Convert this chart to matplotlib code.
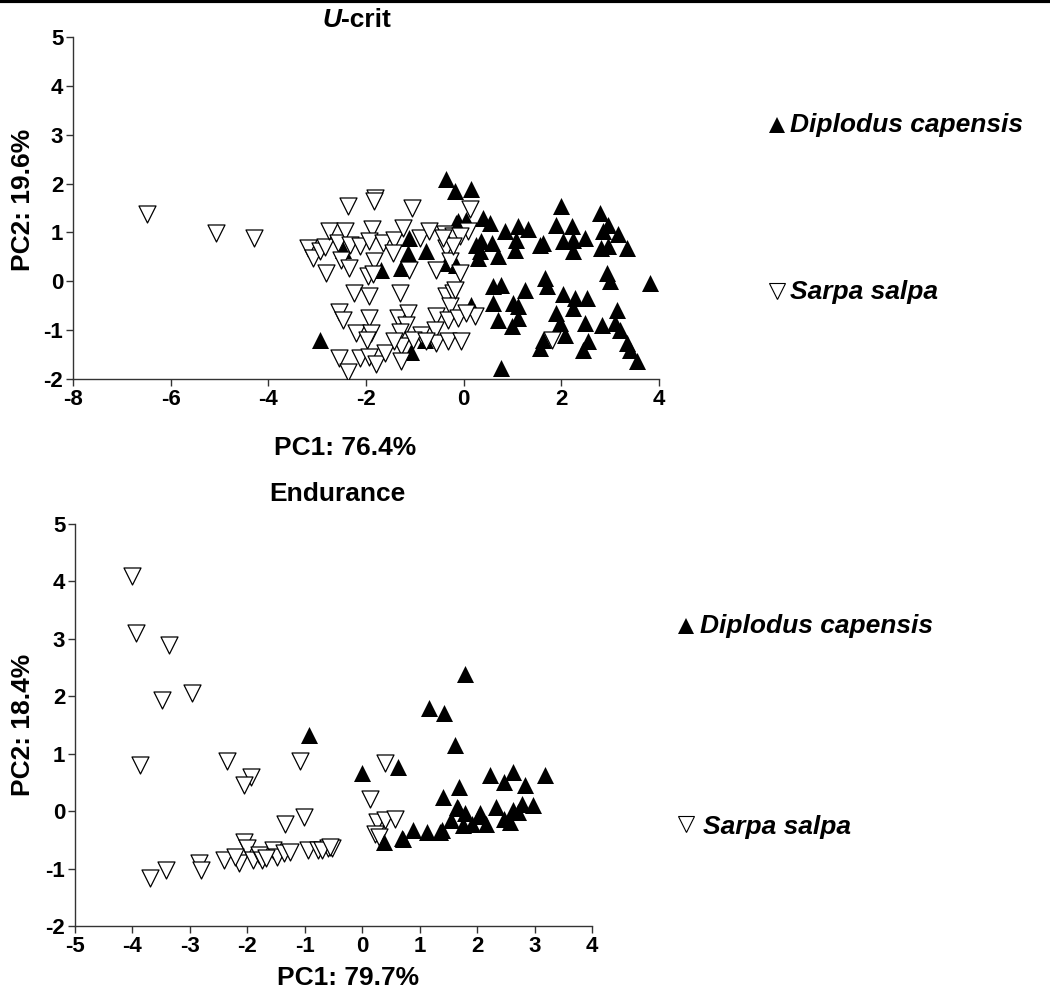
import matplotlib
matplotlib.use("Agg")
import matplotlib.pyplot as plt
from matplotlib.lines import Line2D

plt.rcParams['font.family'] = ['Liberation Sans', 'DejaVu Sans']
plt.rcParams['font.weight'] = 'bold'
plt.rcParams['axes.unicode_minus'] = False

# ----- data: U-crit PCA scores -----
ucrit_dip_x = [-2.94, -2.48, -1.69, -1.28, -1.11, -1.14, -0.77, -0.80, -1.07, -0.36, -0.18, 0.16,
               -0.15, -0.36, -0.15, -0.12, 0.05, 0.40, 0.53, 0.26, 0.36, 0.33, 0.29, 0.57, 0.70,
               0.84, 1.05, 1.08, 1.11, 1.32, 1.56, 1.63, 2.00, 1.90, 2.04, 2.21, 2.24, 2.24, 2.48,
               2.79, 2.86, 2.96, 2.82, 2.96, 3.17, 3.34, 2.93, 3.00, 3.82, 1.66, 1.70, 0.60, 0.77,
               1.25, 0.60, 0.16, 1.01, 1.11, 0.70, 0.98, 1.11, 2.04, 2.28, 2.52, 2.24, 1.90, 1.97,
               2.07, 2.48, 2.83, 3.13, 3.10, 3.20, 3.34, 3.40, 3.54, 1.63, 1.56, 2.55, 2.45, 0.77]
ucrit_dip_y = [-1.20, 0.65, 0.24, 0.27, 0.89, 0.58, 0.62, -1.20, -1.44, 2.09, 1.85, 1.88,
               1.20, 0.38, 0.34, 1.23, 1.26, 1.30, 1.20, 0.75, 0.82, 0.62, 0.48, 0.79, 0.51,
               1.03, 0.65, 0.85, 1.13, 1.06, 0.75, 0.79, 1.54, 1.16, 0.82, 1.13, 0.62, 0.85, 0.89,
               1.40, 1.03, 1.16, 0.68, 0.72, 0.96, 0.68, 0.17, 0.00, -0.03, 0.07, -0.10, -0.10, -0.07,
               -0.17, -0.44, -0.48, -0.44, -0.51, -0.79, -0.92, -0.75, -0.27, -0.34, -0.34, -0.55, -0.65, -0.85,
               -1.09, -0.85, -0.89, -0.58, -0.85, -0.99, -1.26, -1.40, -1.64, -1.20, -1.37, -1.23, -1.40, -1.78]

ucrit_sar_x = [-6.48, -5.07, -4.29, -3.19, -3.08, -2.95, -2.82, -2.83, -2.75, -2.58, -2.42, -2.37,
               -2.51, -2.34, -2.32, -2.13, -1.81, -1.83, -1.87, -1.93, -1.65, -1.83, -1.96, -1.86,
               -1.42, -1.24, -1.45, -1.12, -1.05, -0.90, -0.71, -0.56, -0.39, -0.36, -0.29, -0.22,
               -2.24, -1.93, -1.30, -2.55, -2.48, -1.94, -2.20, -1.89, -1.98, -1.35, -1.14, -1.18,
               -1.31, -1.28, -0.87, -0.57, -0.59, -0.56, -0.32, -0.36, -0.22, -0.29, -0.32, -2.55,
               -2.37, -2.13, -1.93, -1.79, -1.62, -1.28, -1.42, -1.04, -0.77, 0.12, 0.09, -0.08,
               -0.22, -0.42, -0.08, -0.18, -0.12, 0.23, 0.05, -0.05, 1.80]
ucrit_sar_y = [1.37, 0.99, 0.89, 0.68, 0.48, 0.62, 0.17, 0.70, 1.03, 0.79, 1.03, 1.54,
               0.44, 0.27, 0.75, 0.72, 1.71, 1.64, 1.06, 0.82, 0.79, 0.41, 0.10, 0.14,
               0.85, 1.09, 0.58, 0.24, 1.50, 0.89, 1.03, 0.24, 0.96, 0.68, 0.41, 0.92,
               -0.24, -0.31, -0.24, -0.62, -0.79, -0.75, -1.06, -1.06, -1.20, -0.75, -0.65, -0.89,
               -1.03, -1.33, -1.09, -0.72, -0.99, -1.26, -1.23, -0.31, -0.24, -0.51, -0.79, -1.57,
               -1.85, -1.57, -1.54, -1.69, -1.47, -1.64, -1.23, -1.20, -1.23, 1.47, 1.03, 0.92,
               0.72, 0.89, 0.17, -0.17, -0.75, -0.72, -0.65, -1.23, -1.20]

# ----- data: Endurance PCA scores -----
endur_dip_x = [-0.92, 1.79, 1.16, 1.42, 1.62, 0.00, 0.63, 0.38, 0.71, 0.88, 1.12, 1.36, 1.40,
               1.69, 1.67, 1.54, 1.76, 2.05, 2.22, 2.46, 2.63, 2.84, 3.19, 2.33, 2.46, 2.63,
               2.78, 2.98, 2.16, 1.91, 2.57, 2.71, 0.69, 1.39, 1.65, 1.79, 2.03]
endur_dip_y = [1.33, 2.38, 1.79, 1.71, 1.16, 0.66, 0.77, -0.53, -0.48, -0.33, -0.36, -0.36, 0.25,
               0.42, 0.05, -0.16, -0.24, -0.04, 0.63, 0.51, 0.69, 0.45, 0.63, 0.08, -0.13, 0.02,
               0.13, 0.10, -0.22, -0.22, -0.19, -0.01, -0.47, -0.33, 0.08, -0.03, -0.09]

endur_sar_x = [-4.01, -3.93, -3.36, -3.49, -2.97, -3.87, -2.36, -1.93, -1.09, -2.05, 0.40, 0.14,
               -1.01, -1.34, -3.70, -3.42, -2.84, -2.80, -2.40, -2.15, -2.05, -2.01, -1.91, -1.80,
               -1.74, -1.56, -1.49, -1.36, -1.25, -0.94, -0.77, -0.60, -0.53, -2.22, -1.67,
               0.26, 0.40, 0.57, 0.23, 0.30, -0.70, -0.56]
endur_sar_y = [4.09, 3.11, 2.90, 1.94, 2.06, 0.81, 0.87, 0.60, 0.87, 0.45, 0.83, 0.22,
               -0.10, -0.22, -1.17, -1.02, -0.91, -1.03, -0.85, -0.91, -0.53, -0.65, -0.85, -0.77,
               -0.85, -0.68, -0.80, -0.73, -0.71, -0.68, -0.68, -0.65, -0.65, -0.80, -0.82,
               -0.19, -0.16, -0.13, -0.39, -0.45, -0.67, -0.62]

species = ['Diplodus capensis', 'Sarpa salpa']
ucrit_xticks = [-8, -6, -4, -2, 0, 2, 4]
endur_xticks = [-5, -4, -3, -2, -1, 0, 1, 2, 3, 4]
yticks = [-2, -1, 0, 1, 2, 3, 4, 5]

W, H = 1050, 996
fig = plt.figure(figsize=(W / 100, H / 100), dpi=100)


def fx(x):
    return x / W


def fy(y):
    return 1 - y / H


def make_axes(left, top, right, bottom, xticks):
    ax = fig.add_axes([fx(left), fy(bottom), fx(right - left), (bottom - top) / H])
    for s in ['top', 'right']:
        ax.spines[s].set_visible(False)
    for s in ['left', 'bottom']:
        ax.spines[s].set_color('#333333')
        ax.spines[s].set_linewidth(1.0)
    ax.tick_params(direction='out', length=5, width=1, color='#333333', pad=2)
    ax.set_xlim(xticks[0], xticks[-1])
    ax.set_ylim(yticks[0], yticks[-1])
    ax.set_xticks(xticks)
    ax.set_xticklabels([str(t) for t in xticks], fontsize=16, fontweight='bold')
    ax.set_yticks(yticks)
    ax.set_yticklabels([str(t) for t in yticks], fontsize=16, fontweight='bold')
    return ax


ms = 150
# top panel: U-crit
ax1 = make_axes(73, 37, 659, 379, ucrit_xticks)
ax1.scatter(ucrit_dip_x, ucrit_dip_y, s=ms, marker='^', c='black', linewidths=0, zorder=2)
ax1.scatter(ucrit_sar_x, ucrit_sar_y, s=ms, marker='v', facecolors='white', edgecolors='black',
            linewidths=0.9, zorder=3)

# bottom panel: Endurance
ax2 = make_axes(75, 524, 592, 926, endur_xticks)
ax2.scatter(endur_sar_x, endur_sar_y, s=ms, marker='v', facecolors='white', edgecolors='black',
            linewidths=0.9, zorder=2)
ax2.scatter(endur_dip_x, endur_dip_y, s=ms, marker='^', c='black', linewidths=0, zorder=3)

# titles and axis labels
fig.text(fx(341), fy(20), 'U', fontsize=19, fontweight='bold', style='italic', ha='right', va='center')
fig.text(fx(341), fy(20), '-crit', fontsize=19, fontweight='bold', ha='left', va='center')
fig.text(fx(345), fy(448), 'PC1: 76.4%', fontsize=19, fontweight='bold', ha='center', va='center')
fig.text(fx(23), fy(200), 'PC2: 19.6%', fontsize=19, fontweight='bold', ha='center', va='center',
         rotation=90)
fig.text(fx(337), fy(494), 'Endurance', fontsize=19, fontweight='bold', ha='center', va='center')
fig.text(fx(348), fy(978), 'PC1: 79.7%', fontsize=19, fontweight='bold', ha='center', va='center')
fig.text(fx(23), fy(725), 'PC2: 18.4%', fontsize=19, fontweight='bold', ha='center', va='center',
         rotation=90)

# legend-like labels at the right
legend_pos = [((777, 125), (790, 125), (777, 291), (790, 292)),
              ((686, 626), (700, 626), (686, 824), (703, 827))]
for (m1, t1, m2, t2) in legend_pos:
    fig.add_artist(Line2D([fx(m1[0])], [fy(m1[1])], marker='^', ms=11, color='black', mew=0))
    fig.add_artist(Line2D([fx(m2[0])], [fy(m2[1])], marker='v', ms=11, mfc='white', mec='black', mew=0.8))
    fig.text(fx(t1[0]), fy(t1[1]), species[0], fontsize=19, fontweight='bold', style='italic',
             ha='left', va='center')
    fig.text(fx(t2[0]), fy(t2[1]), species[1], fontsize=19, fontweight='bold', style='italic',
             ha='left', va='center')

# black rule at the very top
fig.add_artist(Line2D([0, 1], [1 - 1.5 / H, 1 - 1.5 / H], color='black', lw=3))

fig.savefig('out.png', dpi=100)
